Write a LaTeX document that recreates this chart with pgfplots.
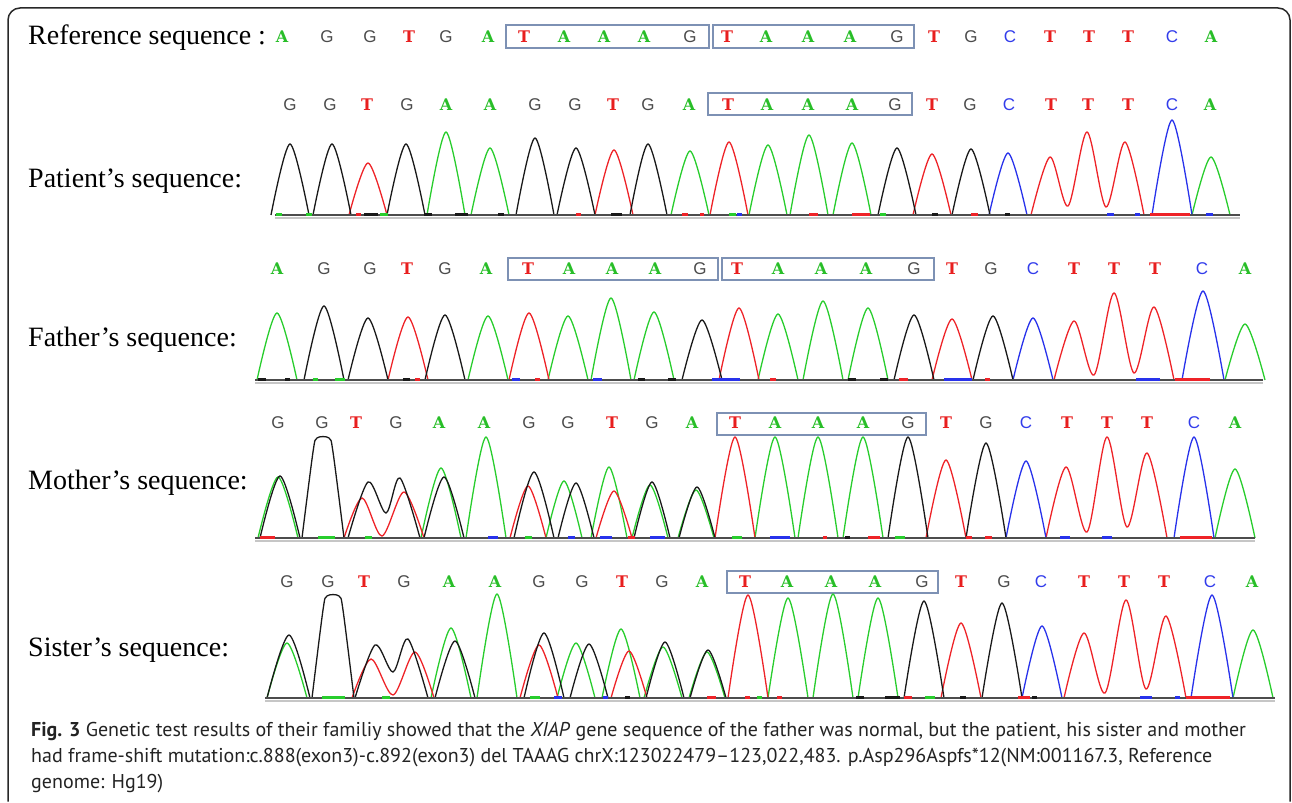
\documentclass[border=0pt]{standalone}
\usepackage{fontspec}
\usepackage{pgfplots}
\pgfplotsset{compat=1.18}
\setmainfont{PT Sans}
\newfontfamily\tnr{Liberation Serif}
\newfontfamily\dser{DejaVu Serif}
\newfontfamily\lsans{Liberation Sans}
\definecolor{cK}{RGB}{25,25,25}
\definecolor{cR}{RGB}{238,35,40}
\definecolor{cG}{RGB}{40,205,45}
\definecolor{cB}{RGB}{40,50,235}
\definecolor{bA}{RGB}{40,190,40}
\definecolor{bG}{RGB}{75,75,75}
\definecolor{bT}{RGB}{232,30,30}
\definecolor{bC}{RGB}{50,60,235}
\definecolor{boxc}{RGB}{125,145,180}
\definecolor{frm}{RGB}{40,40,40}
\definecolor{capc}{RGB}{35,35,35}
\pgfplotsset{pk/.style={smooth, tension=0.5, line width=1.3pt, mark=none}}
\newcommand\K{\addplot[pk,cK] coordinates}
\newcommand\R{\addplot[pk,cR] coordinates}
\newcommand\G{\addplot[pk,cG] coordinates}
\newcommand\B{\addplot[pk,cB] coordinates}
\newcommand\fA{\dser\bfseries\fontsize{16}{16}\selectfont}
\newcommand\fT{\dser\bfseries\fontsize{16}{16}\selectfont}
\newcommand\fG{\lsans\fontsize{17}{17}\selectfont}
\newcommand\fC{\lsans\fontsize{17}{17}\selectfont}
\newcommand\bs[3]{\node[text=b#3,font=\csname f#3\endcsname,inner sep=0] at (axis cs:#1,#2) {#3};}
\newcommand\lab[3]{\node[anchor=base west,font=\tnr\fontsize{28}{28}\selectfont,inner sep=0] at (axis cs:#1,#2) {#3};}
\newcommand\bx[4]{\draw[boxc,line width=1.4pt] (axis cs:#1,#2) rectangle (axis cs:#3,#4);}
\newcommand\basel[3]{\addplot[gray!45,line width=1.6pt,mark=none] coordinates {(#1,#3+3)(#2,#3+3)};
\addplot[black!70,line width=1.8pt,mark=none] coordinates {(#1,#3)(#2,#3)};}
\newcommand\nz[4]{\addplot[#1,line width=2.2pt,mark=none] coordinates {(#2,#4-0.5)(#3,#4-0.5)};}
\begin{document}
\begin{tikzpicture}
\begin{axis}[width=1292pt,height=801pt,scale only axis,hide axis,
  xmin=0,xmax=1292,ymin=0,ymax=801,y dir=reverse,clip=false]
\path (axis cs:0,0) rectangle (axis cs:1292,801);
\draw[frm,line width=1.5pt,rounded corners=12pt] (axis cs:8,801.5) -- (axis cs:8,8) -- (axis cs:1290,8) -- (axis cs:1290,801.5);
% ---------- labels ----------
\lab{28}{45}{Reference sequence}
\node[anchor=base west,font=\tnr\fontsize{28}{28}\selectfont,inner sep=0] at (axis cs:258,45) {:};
\lab{28}{187}{Patient’s sequence:}
\lab{28}{346}{Father’s sequence:}
\lab{28}{489}{Mother’s sequence:}
\lab{28}{656}{Sister’s sequence:}
% ---------- reference letters ----------
\bs{282}{37}{A}\bs{327}{37}{G}\bs{370}{37}{G}\bs{409}{37}{T}\bs{446}{37}{G}\bs{488}{37}{A}
\bs{524}{37}{T}\bs{564}{37}{A}\bs{604}{37}{A}\bs{644}{37}{A}\bs{690}{37}{G}
\bs{727}{37}{T}\bs{766}{37}{A}\bs{808}{37}{A}\bs{850}{37}{A}\bs{897}{37}{G}
\bs{934}{37}{T}\bs{971}{37}{G}\bs{1010}{37}{C}\bs{1050}{37}{T}\bs{1089}{37}{T}\bs{1128}{37}{T}\bs{1172}{37}{C}\bs{1211}{37}{A}
\bx{506}{25}{709}{48}\bx{713}{25}{914}{48}
% ---------- patient letters ----------
\bs{290}{105}{G}\bs{330}{105}{G}\bs{367}{105}{T}\bs{407}{105}{G}\bs{446}{105}{A}\bs{490}{105}{A}
\bs{535}{105}{G}\bs{575}{105}{G}\bs{613}{105}{T}\bs{648}{105}{G}\bs{689}{105}{A}
\bs{728}{105}{T}\bs{767}{105}{A}\bs{808}{105}{A}\bs{852}{105}{A}\bs{895}{105}{G}
\bs{932}{105}{T}\bs{970}{105}{G}\bs{1009}{105}{C}\bs{1051}{105}{T}\bs{1088}{105}{T}\bs{1128}{105}{T}\bs{1172}{105}{C}\bs{1210}{105}{A}
\bx{708}{93}{912}{115}
% ---------- father letters ----------
\bs{277}{269}{A}\bs{324}{269}{G}\bs{370}{269}{G}\bs{407}{269}{T}\bs{445}{269}{G}\bs{486}{269}{A}
\bs{528}{269}{T}\bs{569}{269}{A}\bs{612}{269}{A}\bs{655}{269}{A}\bs{700}{269}{G}
\bs{737}{269}{T}\bs{778}{269}{A}\bs{821}{269}{A}\bs{866}{269}{A}\bs{914}{269}{G}
\bs{952}{269}{T}\bs{991}{269}{G}\bs{1033}{269}{C}\bs{1074}{269}{T}\bs{1114}{269}{T}\bs{1155}{269}{T}\bs{1202}{269}{C}\bs{1245}{269}{A}
\bx{508}{258}{718}{280}\bx{722}{258}{934}{280}
% ---------- mother letters ----------
\bs{278}{423}{G}\bs{322}{423}{G}\bs{356}{423}{T}\bs{396}{423}{G}\bs{439}{423}{A}\bs{484}{423}{A}
\bs{529}{423}{G}\bs{568}{423}{G}\bs{612}{423}{T}\bs{652}{423}{G}\bs{692}{423}{A}
\bs{735}{423}{T}\bs{775}{423}{A}\bs{818}{423}{A}\bs{863}{423}{A}\bs{908}{423}{G}
\bs{946}{423}{T}\bs{986}{423}{G}\bs{1026}{423}{C}\bs{1067}{423}{T}\bs{1107}{423}{T}\bs{1147}{423}{T}\bs{1194}{423}{C}\bs{1235}{423}{A}
\bx{717}{413}{926}{435}
% ---------- sister letters ----------
\bs{287}{582}{G}\bs{328}{582}{G}\bs{364}{582}{T}\bs{404}{582}{G}\bs{449}{582}{A}\bs{495}{582}{A}
\bs{539}{582}{G}\bs{582}{582}{G}\bs{622}{582}{T}\bs{662}{582}{G}\bs{702}{582}{A}
\bs{745}{582}{T}\bs{787}{582}{A}\bs{831}{582}{A}\bs{875}{582}{A}\bs{922}{582}{G}
\bs{961}{582}{T}\bs{1004}{582}{G}\bs{1041}{582}{C}\bs{1084}{582}{T}\bs{1124}{582}{T}\bs{1164}{582}{T}\bs{1210}{582}{C}\bs{1252}{582}{A}
\bx{727}{571}{938}{593}
% ================= PATIENT traces (base 215) =================
\G{(427,215)(446,132)(465,215)};
\G{(471,215)(490,148)(509,215)};
\G{(671,215)(690,151)(709,215)};
\G{(749,215)(768,145)(787,215)};
\G{(790,215)(809,135)(828,215)};
\G{(833,215)(852,143)(871,215)};
\G{(1192,215)(1211,157)(1230,215)};
\R{(349,215)(368,163)(387,215)};
\R{(595,215)(614,150)(633,215)};
\R{(710,215)(729,142)(748,215)};
\R{(913,215)(932,154)(951,215)};
\R{(1031,215)(1050,157)(1068,206)(1087,132)(1106,207)(1125,142)(1144,215)};
\B{(989,215)(1008,153)(1027,215)};
\B{(1152,215)(1172,120)(1192,215)};
\K{(271,215)(290,144)(309,215)};
\K{(313,215)(332,144)(351,215)};
\K{(387,215)(406,144)(425,215)};
\K{(516,215)(535,138)(554,215)};
\K{(557,215)(576,148)(595,215)};
\K{(630,215)(648,144)(667,215)};
\K{(878,215)(897,148)(916,215)};
\K{(952,215)(971,149)(990,215)};
\basel{275}{1240}{215}
\nz{cG}{276}{282}{215}\nz{cG}{306}{312}{215}\nz{cR}{356}{361}{215}\nz{cK}{364}{378}{215}
\nz{cG}{380}{388}{215}\nz{cK}{424}{432}{215}\nz{cK}{455}{468}{215}\nz{cK}{498}{504}{215}
\nz{cR}{576}{581}{215}\nz{cK}{611}{622}{215}\nz{cR}{682}{688}{215}\nz{cR}{700}{704}{215}
\nz{cG}{729}{736}{215}\nz{cB}{737}{742}{215}\nz{cR}{809}{818}{215}\nz{cR}{852}{870}{215}
\nz{cG}{880}{886}{215}\nz{cK}{932}{938}{215}\nz{cR}{971}{978}{215}\nz{cK}{1005}{1010}{215}
\nz{cB}{1107}{1114}{215}\nz{cB}{1135}{1140}{215}\nz{cR}{1150}{1190}{215}\nz{cB}{1206}{1213}{215}
% ================= FATHER traces (base 380) =================
\G{(257,380)(277,313)(297,380)};
\G{(468,380)(488,316)(508,380)};
\G{(548,380)(568,316)(588,380)};
\G{(591,380)(611,298)(631,380)};
\G{(634,380)(654,312)(674,380)};
\G{(758,380)(778,314)(798,380)};
\G{(803,380)(823,301)(843,380)};
\G{(848,380)(868,308)(888,380)};
\G{(1225,380)(1245,324)(1265,380)};
\R{(388,380)(408,317)(428,380)};
\R{(509,380)(529,313)(549,380)};
\R{(719,380)(739,308)(759,380)};
\R{(932,380)(952,319)(972,380)};
\R{(1054,380)(1074,321)(1094,375)(1114,293)(1134,373)(1154,307)(1174,380)};
\B{(1013,380)(1033,318)(1053,380)};
\B{(1182,380)(1203,291)(1224,380)};
\K{(304,380)(324,306)(344,380)};
\K{(348,380)(368,318)(388,380)};
\K{(425,380)(445,315)(465,380)};
\K{(682,380)(702,320)(722,380)};
\K{(894,380)(914,315)(934,380)};
\K{(973,380)(993,316)(1013,380)};
\basel{255}{1263}{380}
\nz{cK}{258}{266}{380}\nz{cK}{285}{290}{380}\nz{cG}{313}{318}{380}\nz{cG}{335}{345}{380}
\nz{cK}{403}{410}{380}\nz{cR}{415}{420}{380}\nz{cB}{512}{520}{380}\nz{cR}{535}{540}{380}
\nz{cB}{593}{602}{380}\nz{cK}{638}{645}{380}\nz{cK}{668}{676}{380}\nz{cB}{712}{740}{380}
\nz{cR}{770}{776}{380}\nz{cK}{848}{856}{380}\nz{cK}{880}{888}{380}\nz{cR}{899}{908}{380}
\nz{cB}{944}{972}{380}\nz{cR}{985}{990}{380}\nz{cB}{1136}{1160}{380}\nz{cR}{1175}{1210}{380}
% ================= MOTHER traces (base 538) =================
\G{(258,538)(278,477)(298,538)};
\G{(421,538)(441,468)(461,538)};
\G{(466,538)(486,437)(506,538)};
\G{(546,538)(564,481)(582,538)};
\G{(591,538)(609,467)(627,538)};
\G{(632,538)(650,485)(668,538)};
\G{(678,538)(696,490)(714,538)};
\G{(755,538)(775,437)(795,538)};
\G{(798,538)(818,437)(838,538)};
\G{(843,538)(863,437)(883,538)};
\G{(1215,538)(1235,469)(1255,538)};
\R{(344,538)(362,498)(382,536)(404,492)(424,538)};
\R{(510,538)(528,486)(546,538)};
\R{(596,538)(614,491)(632,538)};
\R{(715,538)(735,437)(755,538)};
\R{(926,538)(946,460)(966,538)};
\R{(1046,538)(1066,467)(1087,532)(1107,437)(1127,527)(1147,453)(1167,538)};
\B{(1006,538)(1026,461)(1046,538)};
\B{(1174,538)(1194,437)(1214,538)};
\K{(260,538)(280,476)(300,538)};
\K{(302,538)(313,452)(317,438)(329,438)(333,452)(344,538)};
\K{(348,538)(368,482)(386,513)(400,478)(420,538)};
\K{(424,538)(444,477)(464,538)};
\K{(514,538)(534,472)(554,538)};
\K{(558,538)(576,483)(594,538)};
\K{(634,538)(652,482)(670,538)};
\K{(679,538)(697,487)(715,538)};
\K{(888,538)(908,437)(928,538)};
\K{(966,538)(986,443)(1006,538)};
\basel{255}{1255}{538}
\nz{cR}{260}{275}{538}\nz{cG}{318}{335}{538}\nz{cG}{365}{372}{538}\nz{cB}{488}{498}{538}
\nz{cG}{525}{532}{538}\nz{cB}{568}{575}{538}\nz{cB}{600}{612}{538}\nz{cR}{628}{635}{538}
\nz{cB}{650}{665}{538}\nz{cG}{732}{742}{538}\nz{cB}{770}{790}{538}\nz{cR}{823}{827}{538}
\nz{cK}{845}{850}{538}\nz{cR}{868}{880}{538}\nz{cG}{895}{905}{538}\nz{cR}{966}{972}{538}
\nz{cR}{985}{992}{538}\nz{cB}{1060}{1070}{538}\nz{cB}{1102}{1112}{538}\nz{cR}{1180}{1212}{538}
% ================= SISTER traces (base 698) =================
\G{(267,698)(287,643)(307,698)};
\G{(431,698)(451,628)(471,698)};
\G{(477,698)(497,594)(517,698)};
\G{(557,698)(576,643)(595,698)};
\G{(602,698)(621,629)(640,698)};
\G{(644,698)(663,647)(682,698)};
\G{(689,698)(707,652)(725,698)};
\G{(768,698)(788,598)(808,698)};
\G{(813,698)(833,594)(853,698)};
\G{(858,698)(878,598)(898,698)};
\G{(1233,698)(1253,630)(1273,698)};
\R{(352,698)(371,659)(393,695)(415,652)(434,698)};
\R{(520,698)(539,645)(558,698)};
\R{(611,698)(629,651)(647,698)};
\R{(728,698)(748,595)(768,698)};
\R{(941,698)(961,623)(981,698)};
\R{(1064,698)(1084,633)(1105,693)(1126,600)(1146,689)(1166,616)(1186,698)};
\B{(1022,698)(1042,626)(1062,698)};
\B{(1191,698)(1212,595)(1233,698)};
\K{(267,698)(289,635)(310,698)};
\K{(312,698)(323,610)(327,596)(339,596)(343,610)(354,698)};
\K{(355,698)(375,645)(393,672)(408,639)(428,698)};
\K{(435,698)(455,641)(475,698)};
\K{(524,698)(544,633)(564,698)};
\K{(570,698)(589,644)(608,698)};
\K{(646,698)(665,642)(684,698)};
\K{(690,698)(708,650)(726,698)};
\K{(904,698)(924,601)(944,698)};
\K{(982,698)(1002,603)(1022,698)};
\basel{265}{1275}{698}
\nz{cG}{322}{345}{698}\nz{cG}{382}{390}{698}\nz{cG}{530}{540}{698}\nz{cB}{554}{562}{698}
\nz{cB}{603}{608}{698}\nz{cK}{625}{630}{698}\nz{cR}{707}{716}{698}\nz{cR}{745}{750}{698}
\nz{cG}{757}{762}{698}\nz{cR}{777}{782}{698}\nz{cK}{856}{864}{698}\nz{cK}{885}{900}{698}
\nz{cR}{904}{912}{698}\nz{cG}{925}{935}{698}\nz{cK}{960}{966}{698}\nz{cR}{1018}{1030}{698}
\nz{cK}{1032}{1037}{698}\nz{cB}{1140}{1152}{698}\nz{cB}{1175}{1180}{698}\nz{cR}{1186}{1230}{698}
% ---------- caption ----------
\node[anchor=base west,inner sep=0,text=capc,font=\fontsize{20}{20}\selectfont] at (axis cs:31,736) {\textbf{Fig. 3} Genetic test results of their familiy showed that the \textit{XIAP} gene sequence of the father was normal, but the patient, his sister and mother};
\node[anchor=base west,inner sep=0,text=capc,font=\fontsize{20}{20}\selectfont] at (axis cs:31,762) {had frame-shift mutation:c.888(exon3)-c.892(exon3) del TAAAG chrX:123022479–123,022,483. p.Asp296Aspfs*12(NM:001167.3, Reference};
\node[anchor=base west,inner sep=0,text=capc,font=\fontsize{20}{20}\selectfont] at (axis cs:31,788) {genome: Hg19)};
\end{axis}
\end{tikzpicture}
\end{document}
